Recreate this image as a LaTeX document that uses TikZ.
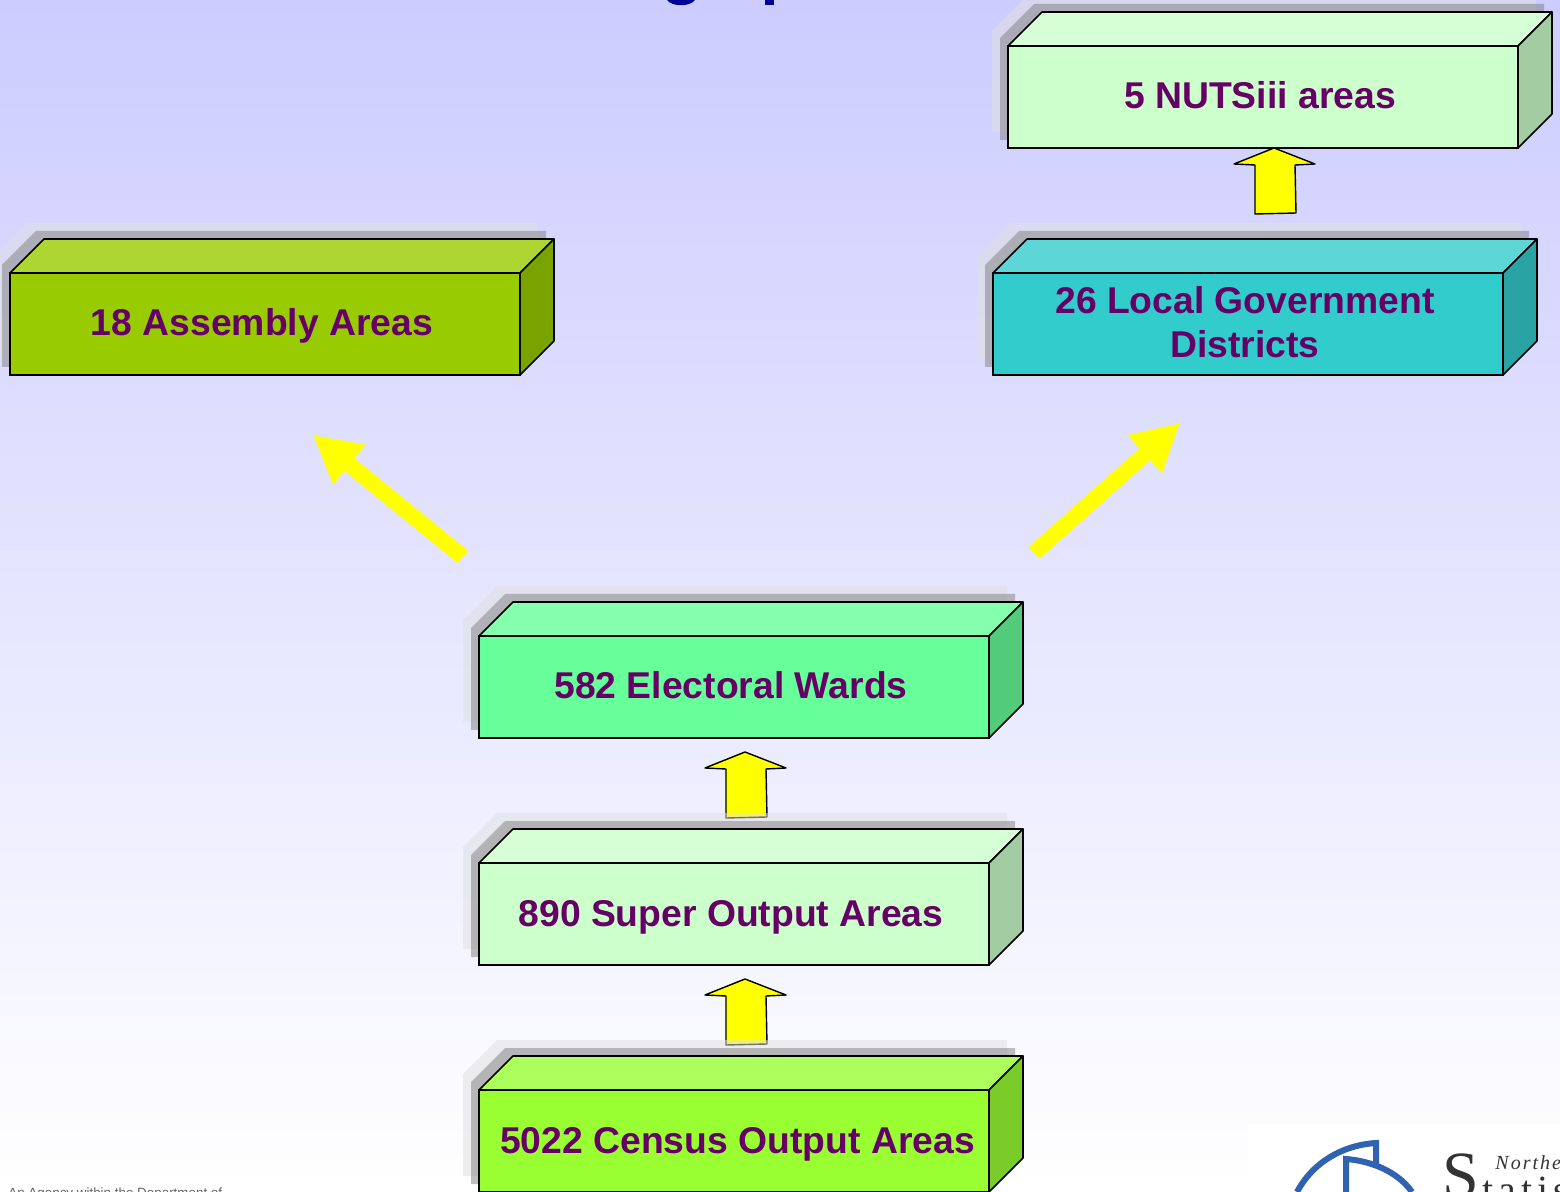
\documentclass[tikz,border=0pt]{standalone}
\usepackage{fontspec}
\setmainfont{Liberation Sans}
\newfontfamily\logofont{Liberation Serif}
\usetikzlibrary{arrows.meta, positioning, calc, backgrounds}
\definecolor{titleblue}{HTML}{000099}
\definecolor{labelpurple}{HTML}{660066}
\definecolor{logoblue}{HTML}{2F62B0}
\definecolor{skytop}{HTML}{CCCCFF}
\definecolor{pureyellow}{HTML}{FFFF00}
\definecolor{censusfront}{HTML}{99FF33}
\definecolor{censustop}{HTML}{ADFF5C}
\definecolor{censusside}{HTML}{7ACC29}
\definecolor{palefront}{HTML}{CCFFCC}
\definecolor{paletop}{HTML}{D6FFD6}
\definecolor{paleside}{HTML}{A3CCA3}
\definecolor{wardsfront}{HTML}{66FF99}
\definecolor{wardstop}{HTML}{85FFAD}
\definecolor{wardsside}{HTML}{52CC7A}
\definecolor{assemblyfront}{HTML}{99CC00}
\definecolor{assemblytop}{HTML}{ADD633}
\definecolor{assemblyside}{HTML}{7AA300}
\definecolor{lgdfront}{HTML}{33CCCC}
\definecolor{lgdtop}{HTML}{5CD6D6}
\definecolor{lgdside}{HTML}{29A3A3}
\newcommand{\lbl}[1]{\mbox{#1\kern3pt}}
% top and side faces of a box: name, top colour, side colour
\newcommand{\faces}[3]{
	\draw[facet, fill=#2] (#1.north west) -- ++(34,-34) -- ++(510,0) -- ++(-34,34) -- cycle;
	\draw[facet, fill=#3] (#1.north east) -- ++(34,-34) -- ++(0,102) -- ++(-34,34) -- cycle;
}
\begin{document}
\begin{tikzpicture}[
		x=0.5pt, y=-0.5pt,
		geobox/.style={
			rectangle,
			draw=black,
			line width=0.8pt,
			minimum width=255pt,
			minimum height=51pt,
			inner sep=0pt,
			outer sep=0pt,
			align=center,
			text=labelpurple,
			text height=14pt,
			text depth=2pt,
			font=\fontsize{18.65}{22}\selectfont\bfseries
		},
		facet/.style={
			draw=black,
			line width=0.8pt,
			line join=round
		},
		uparrow/.style={
			draw=black,
			fill=pureyellow,
			line width=0.7pt,
			line join=round
		},
		fatarrow/.style={
			pureyellow,
			line width=8pt,
			-{Triangle[length=23.5pt, width=24pt]}
		}
	]
	\useasboundingbox (0,0) rectangle (1560,1192);
	
	\node[geobox, fill=censusfront, anchor=north west] (census) at (479,1090) {\mbox{\kern3.5pt 5022 Census Output Areas}};
	\node[geobox, fill=palefront, above=62.5pt of census] (super) {\lbl{890 Super Output Areas}};
	\node[geobox, fill=wardsfront, above=62.5pt of super] (wards) {\lbl{582 Electoral Wards}};
	\node[geobox, fill=assemblyfront, anchor=north west] (assembly) at (10,273) {\lbl{18 Assembly Areas}};
	\node[geobox, fill=lgdfront, anchor=north west, text height=, text depth=] (lgd) at (993,273) {\lbl{26 Local Government}\\\lbl{Districts}\rule[-2pt]{0pt}{2pt}};
	\node[geobox, fill=palefront, anchor=north west] (nuts) at (1008,46) {\lbl{5 NUTSiii areas}};
	
	\faces{census}{censustop}{censusside}
	\faces{super}{paletop}{paleside}
	\faces{wards}{wardstop}{wardsside}
	\faces{assembly}{assemblytop}{assemblyside}
	\faces{lgd}{lgdtop}{lgdside}
	\faces{nuts}{paletop}{paleside}
	
	\begin{scope}[on background layer]
		\shade[top color=skytop, bottom color=white] (0,0) rectangle (1560,1192);
		
		% up arrows between the boxes
		\foreach \high/\gap in {super/14, wards/14, nuts/0}{
			\draw[uparrow] ($(\high.south)+(11,\gap)$) -- ++(41,16) -- ++(-20,1) -- ++(1,48) -- ++(-41,1) -- ++(0,-49) -- ++(-21,-1) -- cycle;
		}
		
		\coordinate (lefttail) at ($(wards.north west)+(-16,-79)$);
		\coordinate (righttail) at ($(wards.north east)+(45,-83)$);
		\draw[fatarrow] (lefttail) -- ($(assembly.south)+(48,60)$);
		\draw[fatarrow] (righttail) -- ($(lgd.south)+(-68,48)$);
		
		% soft shadows behind the boxes
		\foreach \geo in {census,super,wards,assembly,lgd,nuts}{
			\fill[black!12, opacity=0.5] ($(\geo.north west)+(-16,-16)$) -- ++(34,-34) -- ++(510,0) -- ++(0,102) -- ++(-34,34) -- ++(-510,0) -- cycle;
			\fill[black!50, opacity=0.5] ($(\geo.north west)+(-8,-8)$) -- ++(34,-34) -- ++(510,0) -- ++(0,102) -- ++(-34,34) -- ++(-510,0) -- cycle;
		}
		
		\fill[white] (1248,1124) rectangle (1560,1192);
	\end{scope}
	
	% what is left of the title
	\fill[titleblue] (667,0) .. controls (672,7) and (690,7) .. (695,0) -- cycle;
	\fill[titleblue] (765,0) rectangle (774,5);
	
	% logo
	\draw[logoblue, line width=3pt] (1297,1192) .. controls (1313,1162) and (1343,1145) .. (1376,1143) -- (1376,1164);
	\draw[logoblue, line width=3pt] (1346,1192) -- (1346,1159) .. controls (1372,1161) and (1398,1172) .. (1412,1192);
	\node[anchor=base west, inner sep=0pt, text=black!80] (bigs) at (1442,1197) {\logofont\fontsize{33}{33}\selectfont S};
	\node[anchor=base west, inner sep=0pt, text=black!80] (stats) at (1482,1203) {\logofont\fontsize{20}{20}\selectfont t\kern2.5pt a\kern2.5pt t\kern2.5pt i\kern2.5pt s};
	\node[anchor=base west, inner sep=0pt, text=black!80] (north) at (1495,1169) {\logofont\itshape\fontsize{10}{10}\selectfont N\kern1pt o\kern1pt r\kern1pt t\kern1pt h\kern1pt e};
	\node[anchor=base west, inner sep=0pt, text=black!60] (agency) at (8,1197) {\fontsize{6.7}{8}\selectfont An Agency within the Department of};
	
\end{tikzpicture}
\end{document}
